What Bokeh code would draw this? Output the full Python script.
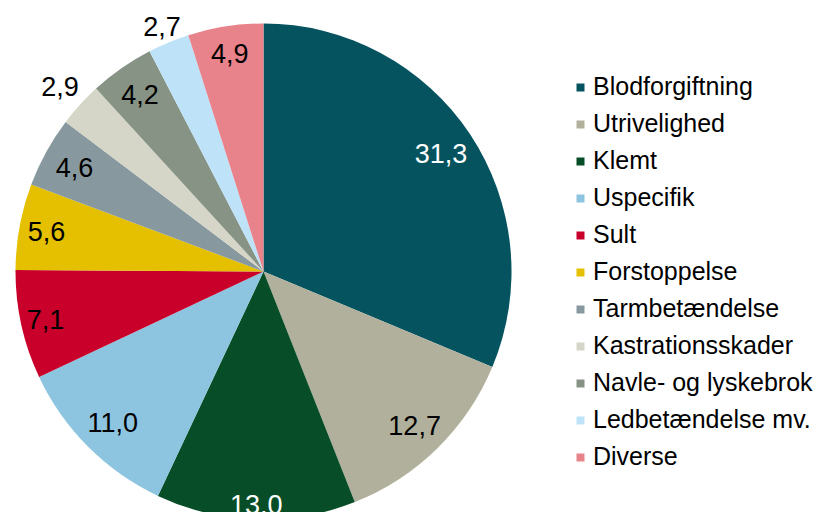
import math
from bokeh.plotting import figure
from bokeh.models import ColumnDataSource, Legend, LegendItem
from bokeh.core.properties import value
from bokeh.embed import file_html
from bokeh.resources import INLINE

categories = ["Blodforgiftning", "Utrivelighed", "Klemt", "Uspecifik", "Sult",
              "Forstoppelse", "Tarmbetændelse", "Kastrationsskader",
              "Navle- og lyskebrok", "Ledbetændelse mv.", "Diverse"]
values = [31.3, 12.7, 13.0, 11.0, 7.1, 5.6, 4.6, 2.9, 4.2, 2.7, 4.9]
colors = ["#04535F", "#B0B09C", "#074D27", "#8DC4DF", "#C8002A", "#E4C000",
          "#87999F", "#D6D6C8", "#869385", "#BEE3F8", "#E8838B"]
label_colors = ["white", "black", "white", "black", "black", "black",
                "black", "black", "black", "black", "black"]
label_radius = [0.86, 0.87, 0.94, 0.86, 0.9, 0.89, 0.87, 1.11, 0.87, 1.07, 0.89]

W, H = 816, 512
cx, cy, R = 263, 241, 248

total = sum(values)
starts, ends, lx, ly, texts = [], [], [], [], []
cum = 0.0
for v, lr in zip(values, label_radius):
    a0 = math.pi / 2 - 2 * math.pi * cum / total
    a1 = math.pi / 2 - 2 * math.pi * (cum + v) / total
    starts.append(a0)
    ends.append(a1)
    mid = (a0 + a1) / 2
    lx.append(cx + lr * R * math.cos(mid))
    ly.append(cy + lr * R * math.sin(mid))
    texts.append(f"{v:.1f}".replace(".", ","))
    cum += v

src = ColumnDataSource(dict(name=categories, start=starts, end=ends,
                            color=colors, lx=lx, ly=ly, txt=texts,
                            tc=label_colors))

p = figure(width=W, height=H, x_range=(0, W), y_range=(0, H),
           output_backend="svg", toolbar_location=None, min_border=0)
p.axis.visible = False
p.grid.visible = False
p.outline_line_color = None
p.background_fill_color = "white"

r = p.wedge(x=cx, y=cy, radius=R, start_angle="start", end_angle="end",
            direction="clock", fill_color="color", line_color=None, source=src)

p.text(x="lx", y="ly", text="txt", text_color="tc", source=src,
       text_align="center", text_baseline="middle",
       text_font=value("Liberation Sans"), text_font_size="27px")

items = [LegendItem(label=c, renderers=[r], index=i) for i, c in enumerate(categories)]
legend = Legend(items=items, location=(575, 41), padding=0, margin=0,
                border_line_color=None, background_fill_alpha=0,
                glyph_width=10, glyph_height=10, label_height=26, spacing=8,
                label_standoff=8, label_text_font="Liberation Sans",
                label_text_font_size="25px", label_text_color="black")
p.add_layout(legend, "center")

open("out.html", "w").write(file_html(p, INLINE))
